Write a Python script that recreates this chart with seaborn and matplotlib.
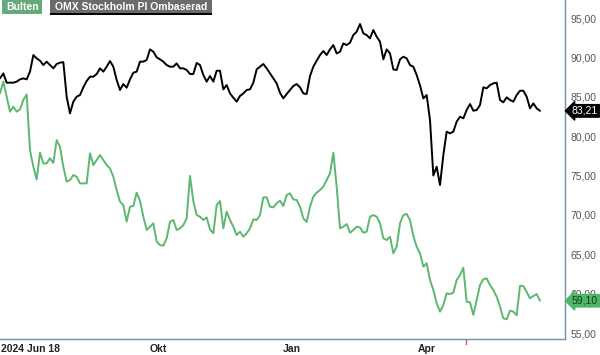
import numpy as np
import pandas as pd
import seaborn as sns
import matplotlib
matplotlib.use("Agg")
import matplotlib.pyplot as plt
from matplotlib.patches import Rectangle
from matplotlib.transforms import ScaledTranslation

# ---- data (one value per sample step) ----
omx = [87.34, 87.97, 86.79, 86.79, 86.79, 86.92, 87.21, 87.34, 87.21, 88.19,
       90.30, 89.88, 89.58, 89.03, 89.46, 89.03, 88.61, 89.16, 89.33, 89.40,
       85.01, 82.89, 84.38, 85.01, 85.22, 86.20, 87.00, 87.55, 87.55, 87.89,
       88.61, 88.19, 88.82, 89.54, 88.82, 87.13, 85.86, 86.62, 86.15, 87.21,
       88.06, 88.19, 89.46, 89.46, 89.67, 91.02, 90.72, 90.01, 89.75, 89.46,
       89.03, 88.82, 88.82, 89.24, 88.61, 88.61, 88.40, 87.89, 87.89, 89.30,
       89.03, 87.76, 86.92, 87.63, 86.92, 88.31, 88.31, 85.94, 86.49, 85.43,
       84.88, 84.38, 85.10, 85.43, 85.86, 85.94, 86.79, 88.48, 88.82, 89.16,
       88.61, 87.97, 87.34, 86.70, 85.50, 84.80, 85.35, 85.86, 86.37, 86.62,
       86.20, 85.43, 85.35, 87.63, 88.82, 89.58, 90.30, 90.81, 90.30, 91.02,
       91.57, 90.51, 90.72, 91.78, 91.57, 91.87, 92.84, 93.26, 94.24, 93.05,
       92.84, 92.42, 93.48, 92.63, 92.00, 89.75, 91.02, 90.51, 88.48, 88.40,
       89.75, 90.09, 89.88, 89.03, 88.82, 87.76, 86.45, 84.80, 85.22, 82.05,
       75.00, 76.12, 73.79, 77.60, 80.57, 80.35, 80.57, 81.84, 82.47, 82.26,
       83.32, 84.08, 83.23, 83.32, 83.95, 86.20, 86.07, 86.49, 86.70, 86.80,
       84.59, 84.30, 84.93, 84.59, 84.38, 85.22, 85.77, 85.77, 85.01, 83.53,
       84.16, 83.53, 83.21]

bulten = [85.43, 86.92, 85.01, 83.11, 83.74, 83.11, 83.40, 84.59, 85.30, 78.24,
          76.12, 74.50, 77.90, 76.54, 76.54, 77.20, 76.60, 79.50, 78.66, 76.12,
          74.22, 74.43, 75.06, 74.85, 74.00, 74.00, 74.00, 77.81, 76.33, 76.97,
          77.60, 76.97, 76.33, 75.91, 74.85, 73.16, 71.68, 71.25, 69.14, 71.04,
          71.13, 72.82, 71.80, 69.77, 68.08, 68.50, 68.93, 66.60, 66.17, 66.09,
          67.02, 69.14, 69.35, 68.08, 68.29, 68.71, 69.56, 74.94, 71.76, 69.98,
          69.77, 69.35, 69.69, 68.16, 67.66, 71.25, 71.76, 68.29, 70.41, 69.35,
          68.50, 67.44, 67.87, 67.23, 67.66, 68.29, 69.43, 69.35, 69.98, 72.23,
          72.23, 71.04, 70.96, 71.47, 71.80, 71.13, 72.52, 72.74, 71.97, 71.89,
          71.04, 69.56, 69.10, 71.04, 72.31, 72.82, 73.16, 73.58, 74.43, 75.28,
          77.90, 73.58, 68.29, 68.50, 68.84, 67.74, 68.08, 68.50, 68.40, 67.74,
          67.87, 69.77, 69.98, 69.77, 68.93, 67.02, 66.81, 67.23, 65.12, 65.96,
          68.93, 69.98, 70.12, 69.35, 67.32, 65.96, 65.12, 63.42, 63.85, 61.73,
          60.46, 58.77, 57.71, 58.56, 60.04, 59.95, 60.12, 61.73, 62.36, 63.30,
          58.98, 58.90, 57.29, 59.19, 61.09, 61.82, 61.94, 61.09, 60.46, 59.61,
          58.34, 56.86, 56.75, 57.84, 57.71, 57.25, 61.00, 60.97, 60.21, 59.40,
          59.70, 59.95, 59.10]

tick_pos = [4.5, 47.4, 87.6, 128.1]
tick_labels = ["2024 Jun 18", "Okt", "Jan", "Apr"]
event_pos = [139.8]
ytick_vals = [55, 60, 65, 70, 75, 80, 85, 90, 95]
series_names = ["Bulten", "OMX Stockholm PI Ombaserad"]

GREEN = "#5cb870"
BLACK = "#000000"
SPINE = "#6f93ad"

sns.set_theme(style="white")
plt.rcParams['font.family'] = ['Liberation Sans', 'DejaVu Sans']

df = pd.DataFrame({
    "idx": list(range(len(omx))) + list(range(len(bulten))),
    "value": omx + bulten,
    "series": [series_names[1]] * len(omx) + [series_names[0]] * len(bulten),
})

fig = plt.figure(figsize=(6.0, 3.55), dpi=100)
ax = fig.add_axes([0, 1 - 339 / 355, 565 / 600, 339 / 355])

sns.lineplot(data=df, x="idx", y="value", hue="series",
             palette={series_names[0]: GREEN, series_names[1]: BLACK},
             hue_order=[series_names[1], series_names[0]],
             linewidth=1.4, legend=False, ax=ax)

ax.set_xlim(0, 169.5)
ax.set_ylim(54.24, 97.29)
ax.set_xlabel("")
ax.set_ylabel("")
ax.grid(False)

for s in ["left", "top"]:
    ax.spines[s].set_visible(False)
for s in ["right", "bottom"]:
    ax.spines[s].set_visible(True)
    ax.spines[s].set_color(SPINE)
    ax.spines[s].set_linewidth(1.0)

ax.yaxis.tick_right()
ax.set_yticks(ytick_vals)
ax.set_yticklabels([f"{v:.2f}".replace(".", ",") for v in ytick_vals])
ax.tick_params(axis="y", length=0, pad=4, labelsize=7.5, labelcolor="#555555")

ax.set_xticks(tick_pos)
ax.set_xticklabels(tick_labels)
ax.tick_params(axis="x", direction="out", length=4, width=1, color=SPINE,
               pad=-0.5, labelsize=7.5, labelcolor="#222222")
for lab in ax.get_xticklabels():
    lab.set_fontweight("bold")
first = ax.get_xticklabels()[0]
first.set_ha("left")
first.set_transform(first.get_transform() + ScaledTranslation(-14 / 100, 0, fig.dpi_scale_trans))

for xp in event_pos:
    ax.plot([xp, xp], [0, -0.015], transform=ax.get_xaxis_transform(),
            color="#e05050", lw=1, clip_on=False)

# end-value labels
for val, fc, tc in [(omx[-1], "black", "white"), (bulten[-1], "#4cb868", "#1a3a1a")]:
    ax.annotate(f"{val:.2f}".replace(".", ","), xy=(1, val),
                xycoords=("axes fraction", "data"), xytext=(5, 0),
                textcoords="offset points", ha="left", va="center",
                fontsize=7.5, color=tc, zorder=10, annotation_clip=False,
                bbox=dict(boxstyle="larrow,pad=0.12", fc=fc, ec=fc))

# legend boxes
W, H = 600, 355
def fr(x0, y0, w, h):
    return (x0 / W, 1 - (y0 + h) / H, w / W, h / H)

x0, y0, w, h = fr(2, 0, 40, 14)
fig.patches.append(Rectangle((x0, y0), w, h, transform=fig.transFigure, fc="#66aa7b", ec="none"))
fig.text(6 / W, 1 - 7.5 / H, series_names[0], color="white", fontsize=7.5,
         fontweight="bold", va="center", ha="left")
x0, y0, w, h = fr(50, 0, 162, 14)
fig.patches.append(Rectangle((x0, y0), w, h, transform=fig.transFigure, fc="#6b6b6b", ec="none"))
x0, y0, w, h = fr(50, 13, 162, 2)
fig.patches.append(Rectangle((x0, y0), w, h, transform=fig.transFigure, fc="black", ec="none"))
fig.text(55 / W, 1 - 7 / H, series_names[1], color="white", fontsize=7.5,
         fontweight="bold", va="center", ha="left")

fig.savefig("out.png", dpi=100)
